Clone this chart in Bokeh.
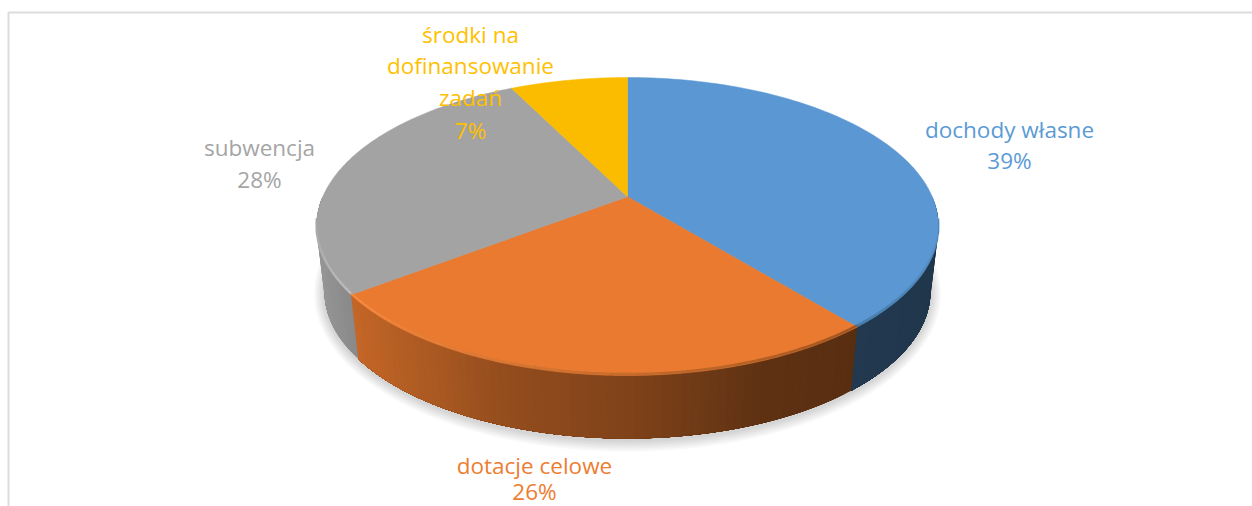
import numpy as np
from bokeh.plotting import figure
from bokeh.embed import file_html
from bokeh.resources import INLINE
from bokeh.core.properties import value

# data
categories = ["dochody własne", "dotacje celowe", "subwencja", "środki na dofinansowanie zadań"]
values = [39.0, 25.7, 27.9, 7.4]
top_colors = ["#5B98D3", "#E97A2F", "#A3A3A3", "#FBBC00"]
label_colors = ["#5B9BD5", "#ED7D31", "#A5A5A5", "#FFC000"]
label_lines = [["dochody własne", "39%"], ["dotacje celowe", "26%"], ["subwencja", "28%"],
               ["środki na", "dofinansowanie", "zadań", "7%"]]

# layout (page pixels)
LABEL_X = [1009, 534, 259, 470]
LABEL_Y = [[129, 160], [465, 491], [147, 179], [34, 65, 97, 130]]
CX, CY, RX, RY = 627, 226, 311, 149
BX, BY, BRX, BRY = 627, 291, 303, 147
TILT = 0.2

p = figure(width=1252, height=506, x_range=(0, 1252), y_range=(506, 0),
           output_backend="svg", toolbar_location=None, min_border=0,
           background_fill_color="white", border_fill_color="white", outline_line_color=None)
p.axis.visible = False
p.grid.visible = False


def project(theta):
    ux, uy = np.sin(theta), np.cos(theta)
    d = 1 + TILT * uy
    return ux * np.sqrt(1 - TILT ** 2) / d, (uy + TILT) / d


def top(theta):
    x, y = project(theta)
    return CX + RX * x, CY - RY * y


def bottom(theta):
    x, y = project(theta)
    return BX + BRX * x, BY - BRY * y


def mix(c0, c1, f):
    a = [int(c0[i:i + 2], 16) for i in (1, 3, 5)]
    b = [int(c1[i:i + 2], 16) for i in (1, 3, 5)]
    return "#%02x%02x%02x" % tuple(int(u + (v - u) * f) for u, v in zip(a, b))


# frame
p.line([8, 8, 1252], [506, 12, 12], line_color="#dcdcdc", line_width=2)

# soft shadow
t = np.linspace(0, 2 * np.pi, 240)
for k in range(1, 8):
    sx = BX + (BRX + 1.5 * k) * np.sin(t)
    sy = BY + 2 + (BRY + 1.6 * k) * np.cos(t)
    p.patch(sx, sy, fill_color="#000000", fill_alpha=0.025, line_color=None)

# wall shading stops
SX = [316, 354, 500, 640, 760, 850, 940]
SF = [0.92, 0.84, 0.64, 0.54, 0.41, 0.38, 0.36]


def shade(color, x):
    f = np.interp(x, SX, SF)
    r, g, b = int(color[1:3], 16), int(color[3:5], 16), int(color[5:7], 16)
    return "#%02x%02x%02x" % (int(r * f), int(g * f), int(b * f))


cum = np.cumsum([0] + values) / sum(values) * 2 * np.pi
lo, hi = np.pi * 0.5, np.pi * 1.5

# side wall: each strip runs on to the slice end and the next paints over it, so no seams
for i, base in enumerate(top_colors):
    a, b = max(cum[i], lo), min(cum[i + 1], hi)
    if a >= b:
        continue
    edges = np.linspace(a, b, int((b - a) * 40) + 2)
    for t0 in edges[:-1]:
        th = np.linspace(t0, b, 50)
        xt, yt = top(th)
        xb, yb = bottom(th[::-1])
        c = shade(base, xt[0] + (xt[-1] - xt[0]) / len(edges))
        p.patch(np.r_[xt, xb], np.r_[yt, yb], fill_color=c, line_color=None)

# top face
for i, c in enumerate(top_colors):
    th = np.linspace(cum[i], cum[i + 1], 120)
    x, y = top(th)
    p.patch(np.r_[CX, x], np.r_[CY - RY * TILT, y], fill_color=c, line_color=c, line_width=0.5)

# rim bevel, stepped from dark (right) to light (left)
for a, b, c0, c1, alpha in [(np.pi * 0.55, cum[1], "#5B98D3", "#3F6C94", 0.6),
                            (cum[1], cum[2], "#8A4A1C", "#FA8F48", 0.75),
                            (cum[2], np.pi * 1.45, "#C2C2C2", "#A8A8A8", 0.8)]:
    edges = np.linspace(a, b, 25)
    for j, (t0, t1) in enumerate(zip(edges[:-1], edges[1:])):
        x, y = top(np.linspace(t0, t1, 8))
        p.line(x, y - 1.5, line_color=mix(c0, c1, j / 23), line_alpha=alpha, line_width=2.5)

# labels
for lines, lx, ys, c in zip(label_lines, LABEL_X, LABEL_Y, label_colors):
    for s, ly in zip(lines, ys):
        p.text([lx], [ly], text=[s], text_color=c, text_font=value("Open Sans"),
               text_font_size="22.5px", text_font_style="normal",
               text_align="center", text_baseline="middle")

open("out.html", "w").write(file_html(p, INLINE))
